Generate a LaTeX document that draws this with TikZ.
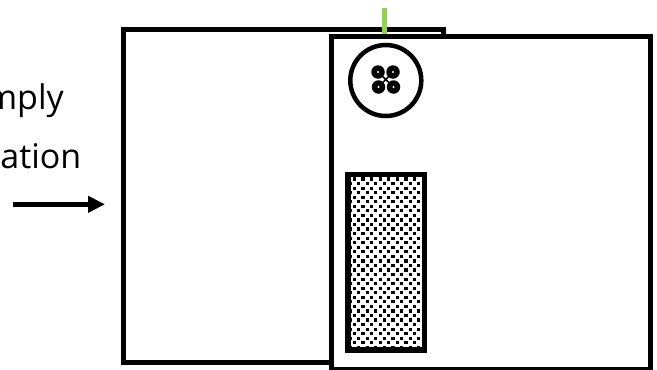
\documentclass[tikz,border=0pt]{standalone}
\usepackage{fontspec}
\setmainfont{Open Sans}
\usetikzlibrary{arrows.meta}
\definecolor{leaf}{HTML}{92D050}
\tikzset{x=1pt,y=-1pt,
  boxline/.style={draw=black,line width=5pt,fill=white,inner sep=0pt,outer sep=0pt,anchor=north west},
  clipped/.style={font=\fontsize{34}{34}\selectfont,inner sep=0pt,anchor=base east,text=black},
  hole/.style={fill=black,circle,inner sep=0pt,outer sep=0pt,minimum size=13.5pt}}
\begin{document}
\begin{tikzpicture}
\useasboundingbox (0,0) rectangle (657,370);
\clip (0,0) rectangle (657,370);
\node[clipped] (t1) at (64,109) {mply};
\node[clipped] (t2) at (81.5,168) {ation};
\coordinate (as) at (13,204.3);
\coordinate (ae) at (105,204.3);
\draw[line width=4.5pt,-{Triangle[length=17pt,width=16pt]}] (as) -- (ae);
\node[boxline,minimum width=319.5pt,minimum height=333pt] (back) at (123.5,29.5) {};
\coordinate (g1) at (384.5,8);
\coordinate (g2) at (384.5,37);
\draw[leaf,line width=5pt] (g1) -- (g2);
\node[boxline,minimum width=318.8pt,minimum height=333pt] (front) at (331.5,36.8) {};
\node[draw=black,line width=4.5pt,fill=white,circle,inner sep=0pt,outer sep=0pt,minimum size=71pt] (button) at (385.8,80.5) {};
\foreach \n/\xx/\yy in {a/378/72,b/393/72,c/378.5/87,d/393.5/87}{
  \node[hole] (h\n) at (\xx,\yy) {};
}
\draw[line width=1.5pt] (ha.center) -- (hd.center) (hb.center) -- (hc.center);
\foreach \n in {a,b,c,d}{\fill[white] (h\n.center) circle (1.2pt);}
\node[boxline,line width=5.5pt,minimum width=76.7pt,minimum height=175.3pt] (panel) at (347.8,174.7) {};
\begin{scope}
\clip (350.5,177.4) rectangle (421.8,347.3);
\foreach \r in {0,...,37}{
  \foreach \c in {0,...,9}{
    \pgfmathsetmacro{\xx}{354.3-mod(\r,2)*4.3+\c*8.6}
    \pgfmathsetmacro{\yy}{179+\r*4.55}
    \fill[black] (\xx-1.6,\yy-1.6) rectangle (\xx+1.6,\yy+1.6);
  }
}
\end{scope}
\end{tikzpicture}
\end{document}
